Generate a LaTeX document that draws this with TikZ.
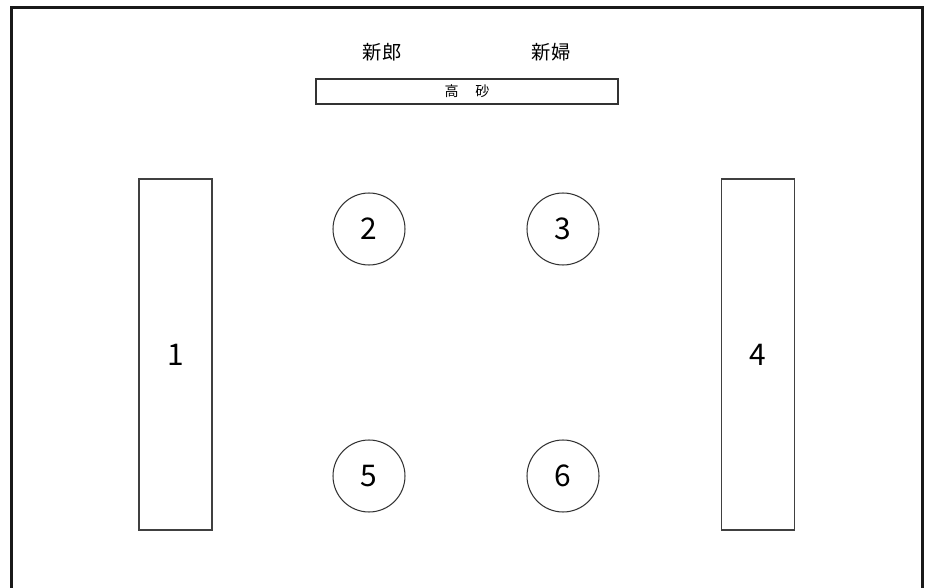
\documentclass[tikz,border=0pt]{standalone}
\usepackage{fontspec}
\setmainfont{Noto Sans CJK JP}
\usepackage{tikz}
\usetikzlibrary{
    positioning,
    shapes.geometric
}
\tikzstyle{longtable} = [
    rectangle,
    draw=black!75,
    line width=0.7pt,
    minimum width=1.46cm,
    minimum height=7.02cm,
    font=\fontsize{17}{20}\selectfont
]
\tikzstyle{roundtable} = [
    circle,
    draw=black!80,
    line width=0.6pt,
    minimum size=1.44cm,
    font=\fontsize{17}{20}\selectfont
]
\tikzstyle{guest} = [
    font=\fontsize{11}{13}\selectfont
]

\begin{document}
\begin{tikzpicture}[x=0.02cm, y=-0.02cm]
    \useasboundingbox (0,0) rectangle (930,588);

    % Room outline
    \draw[line width=1.7pt, black!90] (11.5,588) -- (11.5,7.5) -- (922.5,7.5) -- (922.5,588);

    % Head table
    \node[rectangle, draw=black!80, line width=0.7pt, minimum width=6.04cm, minimum height=0.5cm,
          font=\fontsize{8}{10}\selectfont] (takasago) at (467,91.5) {高\hspace{1.2em}砂};
    \node[guest] (groom) at (382,52) {新郎};
    \node[guest] (bride) at (551,52) {新婦};

    % Side tables
    \node[longtable] (t1) at (175.5,354.5) {1};
    \node[longtable] (t4) at (758,354.5) {4};

    % Round tables
    \node[roundtable] (t2) at (369,229) {2};
    \node[roundtable] (t3) at (563,229) {3};
    \node[roundtable] (t5) at (369,476) {5};
    \node[roundtable] (t6) at (563,476) {6};
\end{tikzpicture}
\end{document}
